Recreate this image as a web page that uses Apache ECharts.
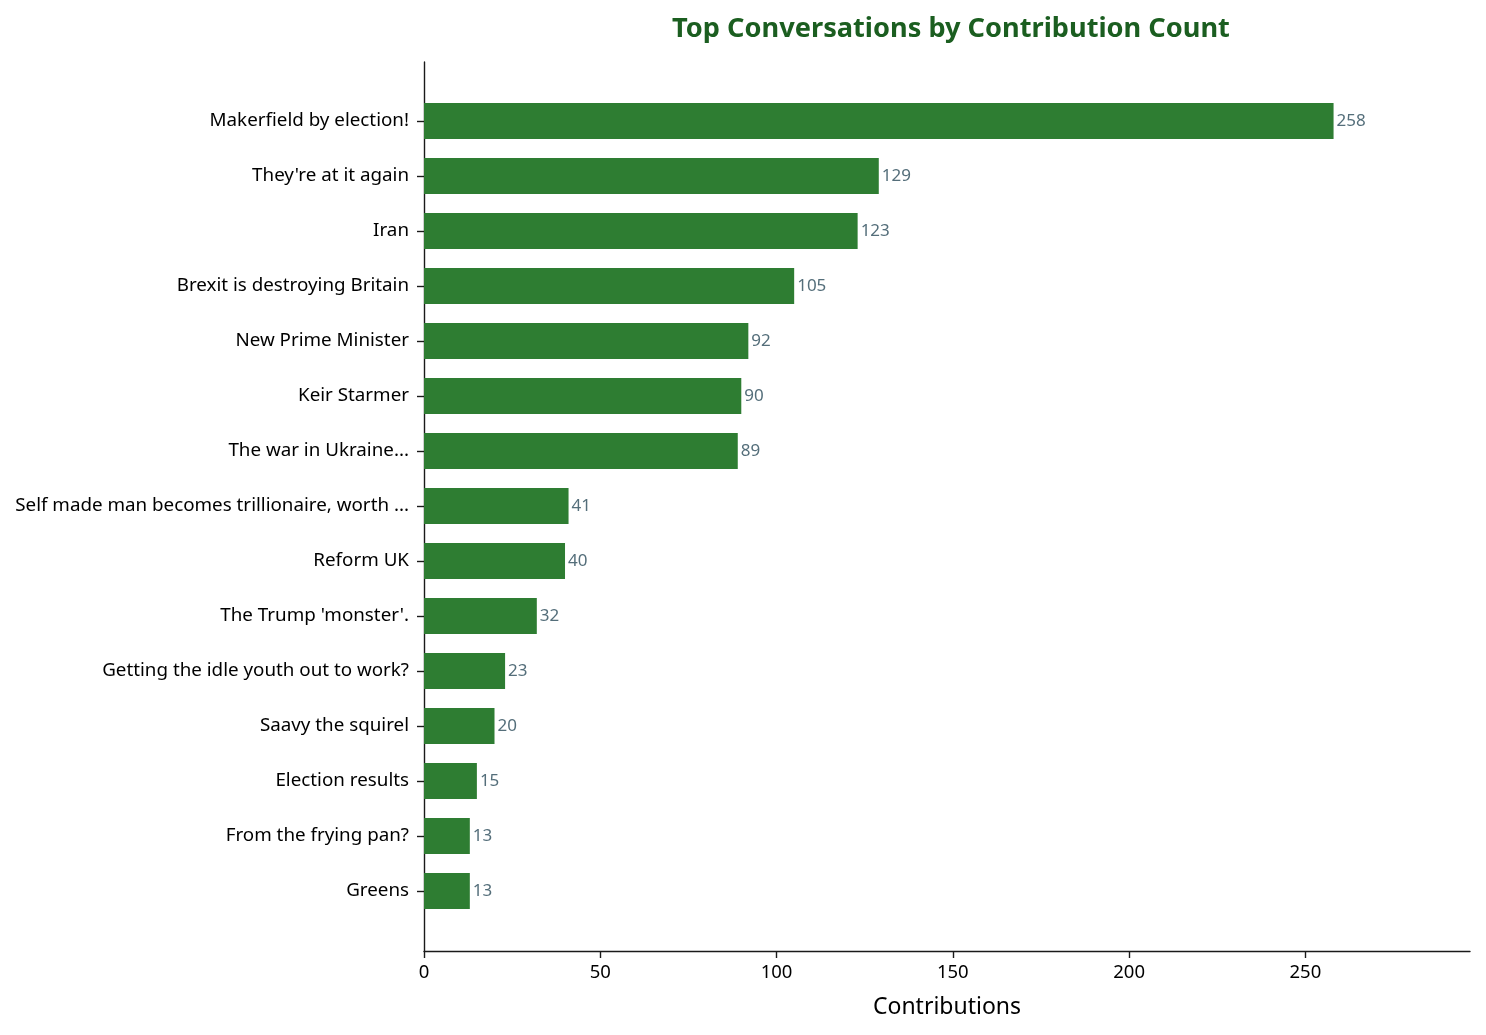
<!DOCTYPE html>
<html>
<head>
<meta charset="utf-8">
<script src="https://cdn.jsdelivr.net/npm/echarts@6/dist/echarts.min.js"></script>
<style>
html,body{margin:0;padding:0;background:#fff;}
#main{width:1486px;height:1035px;}
</style>
</head>
<body>
<div id="main"></div>
<script>
// conversation topics, top to bottom
var topics=['Makerfield by election!',"They're at it again",'Iran','Brexit is destroying Britain','New Prime Minister','Keir Starmer','The war in Ukraine...','Self made man becomes trillionaire, worth ...','Reform UK',"The Trump 'monster'.",'Getting the idle youth out to work?','Saavy the squirel','Election results','From the frying pan?','Greens'];
var counts=[258,129,123,105,92,90,89,41,40,32,23,20,15,13,13];
var xMax=296.7;

var chart=echarts.init(document.getElementById('main'));
var axisColor='#1a1a1a';
var option={
	backgroundColor:'#fff',
	textStyle:{fontFamily:'Noto Sans'},
	title:{
		text:'Top Conversations by Contribution Count',
		left:946,
		top:11,
		textAlign:'center',
		textStyle:{color:'#1b5e20',fontSize:27.2,fontWeight:'bold',fontFamily:'Noto Sans'}
	},
	//bars grid (band area) and frame grid (axis lines with margins)
	grid:[
		{left:424,right:16,top:93.5,bottom:116.5},
		{left:424,right:16,top:62,bottom:84}
	],
	xAxis:[
		{gridIndex:0,type:'value',min:0,max:xMax,show:false},
		{
			gridIndex:1,type:'value',min:0,max:xMax,interval:50,
			name:'Contributions',nameLocation:'middle',nameGap:45,
			nameTextStyle:{color:'#000',fontSize:23,fontFamily:'Noto Sans'},
			axisLine:{show:true,lineStyle:{color:axisColor,width:1.4}},
			axisTick:{show:true,length:7,lineStyle:{color:axisColor,width:1.4}},
			axisLabel:{color:'#000',fontSize:18.5,margin:12,showMaxLabel:false,fontFamily:'Noto Sans'},
			splitLine:{show:false}
		}
	],
	yAxis:[
		{
			gridIndex:0,type:'category',inverse:true,data:topics,
			axisLine:{show:false},
			axisTick:{show:true,alignWithLabel:true,length:7,lineStyle:{color:axisColor,width:1.4}},
			axisLabel:{color:'#000',fontSize:18.8,margin:15,padding:[4,0,0,0],fontFamily:'Noto Sans'},
			splitLine:{show:false}
		},
		{
			gridIndex:1,type:'value',min:0,max:1,
			axisLine:{show:true,lineStyle:{color:axisColor,width:1.4}},
			axisTick:{show:false},
			axisLabel:{show:false},
			splitLine:{show:false}
		}
	],
	series:[
		{
			name:'Contributions',
			type:'bar',
			xAxisIndex:0,
			yAxisIndex:0,
			barWidth:36,
			data:counts,
			itemStyle:{color:'#2e7d32'},
			label:{
				show:true,
				position:'right',
				distance:3,
				color:'#546e7a',
				fontSize:17,
				fontFamily:'Noto Sans'
			}
		}
	]
};
chart.setOption(option);
</script>
</body>
</html>
